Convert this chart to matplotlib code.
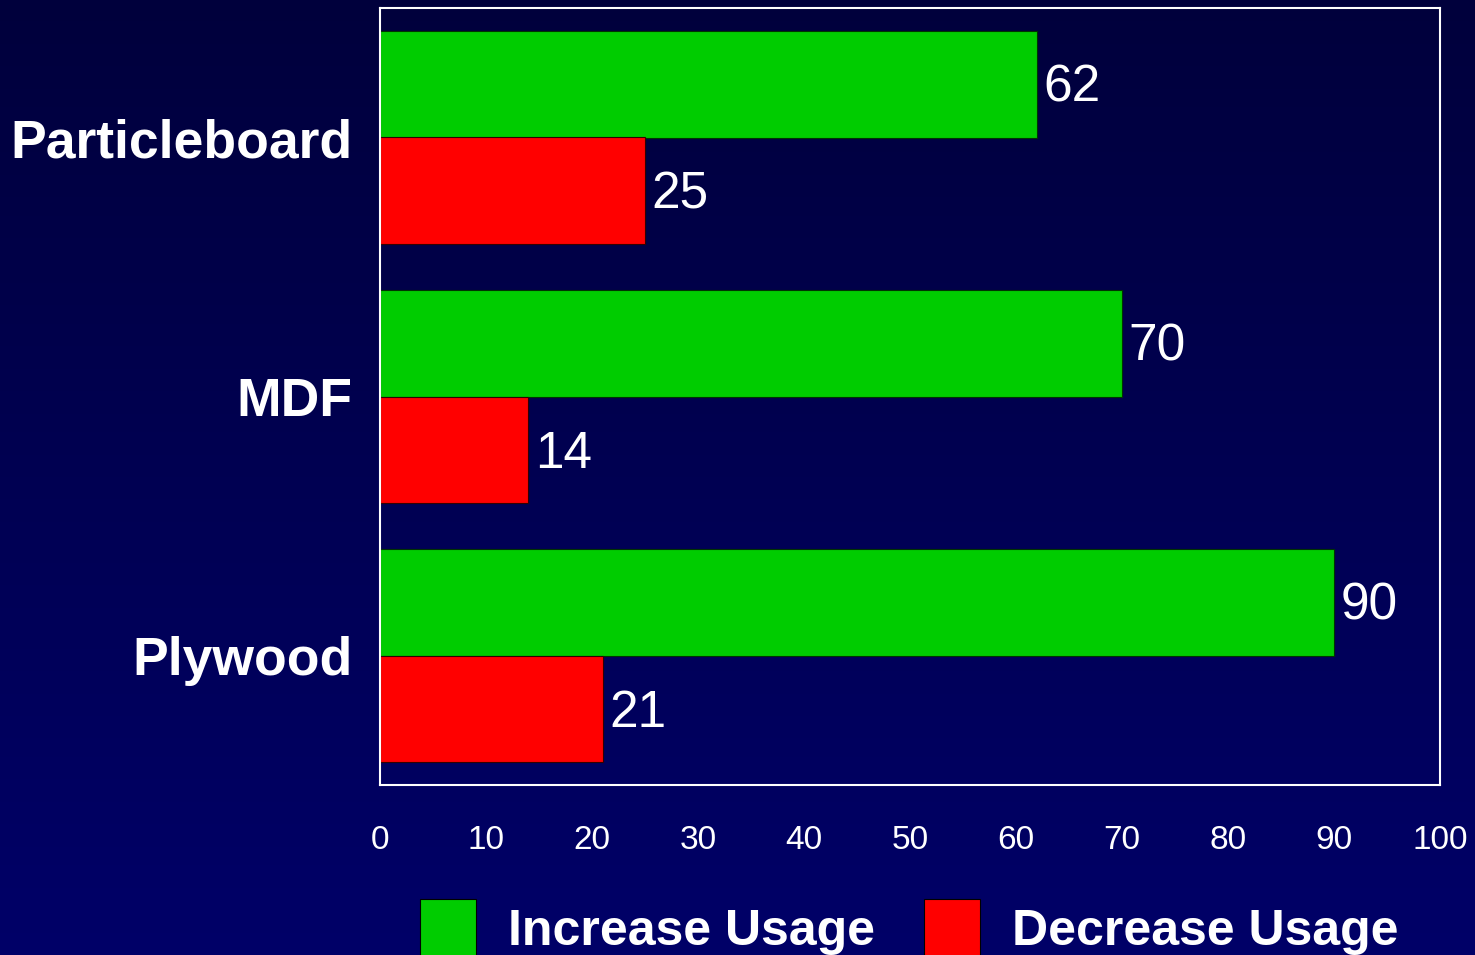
import numpy as np
import matplotlib
matplotlib.use('Agg')
import matplotlib.pyplot as plt
from matplotlib.patches import Rectangle

plt.rcParams['font.family'] = ['Liberation Sans', 'DejaVu Sans']

categories = ['Plywood', 'MDF', 'Particleboard']
increase = [90, 70, 62]
decrease = [21, 14, 25]
series_names = ['Increase Usage', 'Decrease Usage']
series_colors = ['#00cc00', '#ff0000']
xticks = [0, 10, 20, 30, 40, 50, 60, 70, 80, 90, 100]

W, H = 1475, 955
fig = plt.figure(figsize=(W / 100, H / 100), dpi=100)

# gradient background
bg = fig.add_axes([0, 0, 1, 1], zorder=-10)
grad = np.linspace(0, 1, 256).reshape(-1, 1)
top = np.array([0, 0, 0x3c]) / 255
bot = np.array([0, 0, 0x68]) / 255
img = top + (bot - top) * grad[:, :, None]
bg.imshow(img, aspect='auto', extent=[0, 1, 0, 1], origin='upper')
bg.set_axis_off()

ax = fig.add_axes([380 / W, (H - 785) / H, (1440 - 380) / W, (785 - 8) / H])
ax.patch.set_alpha(0)

y = np.arange(len(categories))
h = 0.413
ax.barh(y + h / 2, increase, height=h, color=series_colors[0], edgecolor='#003300', linewidth=0.8)
ax.barh(y - h / 2, decrease, height=h, color=series_colors[1], edgecolor='#330000', linewidth=0.8)

dy = 0.017  # nudge value labels down a little
for yi, v in zip(y, increase):
    ax.text(v + 0.6, yi + h / 2 - dy, str(v), color='white', fontsize=37, va='center', ha='left')
for yi, v in zip(y, decrease):
    ax.text(v + 0.6, yi - h / 2 - dy, str(v), color='white', fontsize=37, va='center', ha='left')

ax.set_xlim(0, 100)
ax.set_ylim(-0.5, 2.5)
ax.set_xticks(xticks)
ax.set_xticklabels([str(t) for t in xticks], color='white', fontsize=24)
ax.set_yticks(y)
ax.set_yticklabels(categories, color='white', fontsize=38.5, fontweight='bold')
ax.tick_params(axis='x', length=0, pad=29)
ax.tick_params(axis='y', length=0, pad=20)
for s in ax.spines.values():
    s.set_color('white')
    s.set_linewidth(1.5)

# legend along bottom edge
leg = [(420, 508), (924, 1012)]
for (sx, tx), name, c in zip(leg, series_names, series_colors):
    fig.patches.append(Rectangle((sx / W, (H - 970) / H), 56 / W, 71 / H,
                                 transform=fig.transFigure, facecolor=c,
                                 edgecolor='black', linewidth=0.8))
    fig.text(tx / W, (H - 932) / H, name, color='white', fontsize=36,
             fontweight='bold', va='center', ha='left')

fig.savefig('out.png', dpi=100)
